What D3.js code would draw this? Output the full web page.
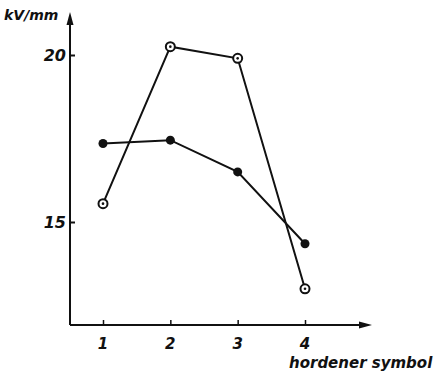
<!DOCTYPE html>
<html>
<head>
<meta charset="utf-8">
<script src="https://cdn.jsdelivr.net/npm/d3@7/dist/d3.min.js"></script>
<style>
  html, body { margin: 0; padding: 0; background: #fff; }
  svg { display: block; }
  text { font-family: "DejaVu Sans", sans-serif; font-style: italic; font-weight: bold; fill: #111; }
</style>
</head>
<body>
<svg id="chart" width="436" height="374"></svg>
<script>
// Breakdown strength by hardener type
const hardeners = [1, 2, 3, 4];
const openSeries = [15.55, 20.25, 19.9, 13.0];   // open circles
const filledSeries = [17.35, 17.45, 16.5, 14.35]; // filled dots
const yTicks = [15, 20];
const xTicks = [1, 2, 3, 4];
const yLabel = "kV/mm";
const xLabel = "hordener symbol";

const svg = d3.select("#chart");
const ink = "#111";

const x = d3.scaleLinear().domain([1, 4]).range([103, 305]);
const y = d3.scaleLinear().domain([15, 20]).range([222, 55]);

const originX = 70, originY = 325;

// axes lines with arrowheads
svg.append("line").attr("x1", originX).attr("y1", originY).attr("x2", originX).attr("y2", 22)
  .attr("stroke", ink).attr("stroke-width", 2);
svg.append("path").attr("d", `M${originX},12 L${originX - 3.5},25 L${originX + 3.5},25 Z`).attr("fill", ink);

svg.append("line").attr("x1", originX).attr("y1", originY).attr("x2", 362).attr("y2", originY)
  .attr("stroke", ink).attr("stroke-width", 2);
svg.append("path").attr("d", `M372,${originY} L359,${originY - 3.5} L359,${originY + 3.5} Z`).attr("fill", ink);

// y ticks
const yAxis = d3.axisRight(y).tickValues(yTicks).tickSize(5).tickFormat("");
const gy = svg.append("g").attr("transform", `translate(${originX},0)`).call(yAxis);
gy.select(".domain").remove();
gy.selectAll(".tick line").attr("stroke", ink).attr("stroke-width", 2);
svg.selectAll(".ylab").data(yTicks).join("text")
  .attr("x", originX - 4).attr("y", d => y(d) + 6)
  .attr("text-anchor", "end").attr("font-size", 16).text(d => d);

// x ticks
const xAxis = d3.axisTop(x).tickValues(xTicks).tickSize(5).tickFormat("");
const gx = svg.append("g").attr("transform", `translate(0,${originY})`).call(xAxis);
gx.select(".domain").remove();
gx.selectAll(".tick line").attr("stroke", ink).attr("stroke-width", 1.5);
svg.selectAll(".xlab").data(xTicks).join("text")
  .attr("x", d => x(d)).attr("y", originY + 24)
  .attr("text-anchor", "middle").attr("font-size", 15).text(d => d);

// axis titles
svg.append("text").attr("x", 4).attr("y", 20).attr("font-size", 14).text(yLabel);
svg.append("text").attr("x", 289).attr("y", 368).attr("font-size", 15).text(xLabel);

// series lines
const line = d3.line().x((d, i) => x(hardeners[i])).y(d => y(d));
svg.append("path").datum(openSeries).attr("d", line)
  .attr("fill", "none").attr("stroke", ink).attr("stroke-width", 2);
svg.append("path").datum(filledSeries).attr("d", line)
  .attr("fill", "none").attr("stroke", ink).attr("stroke-width", 2);

// filled markers
svg.selectAll(".fdot").data(filledSeries).join("circle")
  .attr("cx", (d, i) => x(hardeners[i])).attr("cy", d => y(d))
  .attr("r", 4.5).attr("fill", ink);

// open markers with centre dot
svg.selectAll(".odot").data(openSeries).join("circle")
  .attr("cx", (d, i) => x(hardeners[i])).attr("cy", d => y(d))
  .attr("r", 4.5).attr("fill", "#fff").attr("stroke", ink).attr("stroke-width", 2);
svg.selectAll(".ocen").data(openSeries).join("circle")
  .attr("cx", (d, i) => x(hardeners[i])).attr("cy", d => y(d))
  .attr("r", 1.3).attr("fill", ink);
</script>
</body>
</html>
